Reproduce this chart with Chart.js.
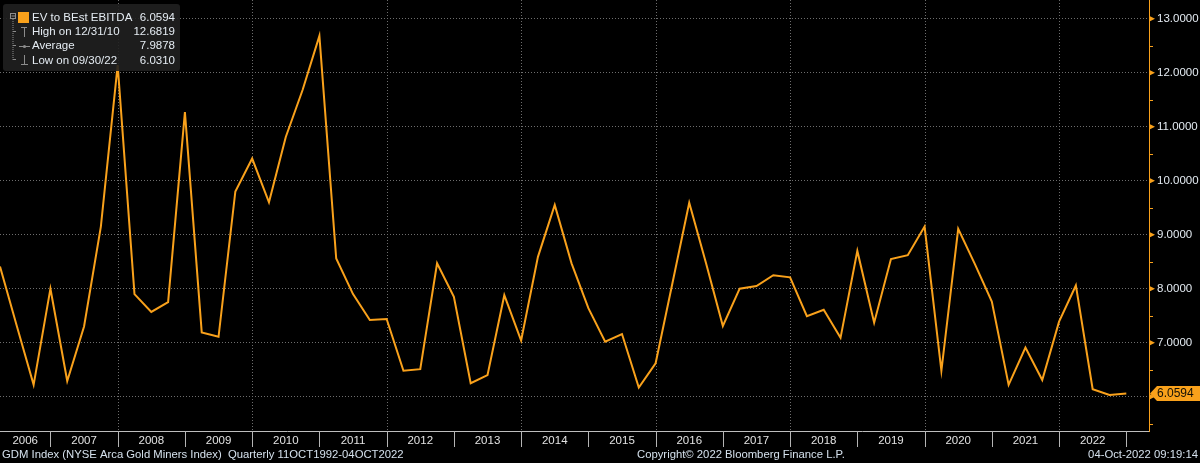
<!DOCTYPE html>
<html>
<head>
<meta charset="utf-8">
<script src="https://cdn.jsdelivr.net/npm/chart.js@4.4.0/dist/chart.umd.min.js"></script>
<style>
html,body{margin:0;padding:0;background:#000;}
#wrap{width:1200px;height:463px;}
</style>
</head>
<body>
<div id="wrap"><canvas id="chart" width="1200" height="463"></canvas></div>
<script>
(function(){
  "use strict";
  const YEARS=["2006","2007","2008","2009","2010","2011","2012","2013","2014","2015","2016","2017","2018","2019","2020","2021","2022"];
  // quarterly EV / BEst EBITDA, one row per year (Q1..Q4), last point = current quarter
  const EV_EBITDA=[
    8.41,7.31,6.22,8.00,
    6.29,7.30,9.15,12.14,
    7.90,7.57,7.75,11.27,
    7.19,7.11,9.80,10.41,
    9.60,10.81,11.68,12.6819,
    8.56,7.90,7.42,7.44,
    6.48,6.51,8.47,7.85,
    6.25,6.40,7.88,7.04,
    8.59,9.55,8.47,7.64,
    7.02,7.16,6.17,6.62,
    8.10,9.59,8.47,7.31,
    8.00,8.05,8.25,8.21,
    7.49,7.61,7.09,8.70,
    7.37,8.55,8.62,9.15,
    6.48,9.11,8.45,7.76,
    6.22,6.91,6.31,7.39,
    8.06,6.14,6.0310,6.0594
  ];
  const Y_TICKS=[6,7,8,9,10,11,12,13];
  const Y_MINOR=[5.5,6.5,7.5,8.5,9.5,10.5,11.5,12.5];
  const LAST_VALUE=6.0594;
  const LEGEND_ROWS=[
    ["EV to BEst EBITDA","6.0594"],
    ["High on 12/31/10","12.6819"],
    ["Average","7.9878"],
    ["Low on 09/30/22","6.0310"]
  ];
  const FOOTER_LEFT="GDM Index (NYSE Arca Gold Miners Index)  Quarterly 11OCT1992-04OCT2022";
  const FOOTER_MID="Copyright\u00A9 2022 Bloomberg Finance L.P.";
  const FOOTER_RIGHT="04-Oct-2022 09:19:14";

  const ORANGE="#f9a11b";
  const TXT="#e4ebf2";
  const FONT="'Liberation Sans', Arial, sans-serif";
  const X_MAX=68.35;

  // year i starts just after quarter index i*4-1 (Dec 31 of previous year)
  function yearStart(i){return i*4-1;}
  function yearMid(i){return (Math.max(yearStart(i),0)+Math.min(yearStart(i+1),X_MAX))/2;}

  const decor={
    id:"bbgDecor",
    beforeDatasetsDraw(chart){
      const {ctx,chartArea:a,scales:{x}}=chart;
      ctx.save();
      ctx.strokeStyle="#6e6e6e";ctx.lineWidth=1;ctx.setLineDash([1,2]);
      YEARS.forEach((y,i)=>{
        if(i===0||(+y)%2!==0) return;
        const px=Math.round(x.getPixelForValue(yearStart(i)))+0.5;
        ctx.beginPath();ctx.moveTo(px,a.top);ctx.lineTo(px,a.bottom);ctx.stroke();
      });
      ctx.restore();
    },
    afterDraw(chart){
      const {ctx,chartArea:a,scales:{x,y}}=chart;
      ctx.save();
      // year separators in the label row
      ctx.strokeStyle="#b4b4b4";ctx.lineWidth=1;
      for(let i=1;i<=YEARS.length;i++){
        const px=Math.round(x.getPixelForValue(yearStart(i)))+0.5;
        ctx.beginPath();ctx.moveTo(px,a.bottom);ctx.lineTo(px,a.bottom+16);ctx.stroke();
      }
      // right axis markers
      ctx.fillStyle=ORANGE;ctx.strokeStyle=ORANGE;
      Y_TICKS.forEach(v=>{
        const py=y.getPixelForValue(v);
        ctx.beginPath();ctx.moveTo(a.right,py-3);ctx.lineTo(a.right+6,py);ctx.lineTo(a.right,py+3);ctx.closePath();ctx.fill();
      });
      Y_MINOR.forEach(v=>{
        const py=Math.round(y.getPixelForValue(v))+0.5;
        ctx.beginPath();ctx.moveTo(a.right,py);ctx.lineTo(a.right+4,py);ctx.stroke();
      });
      // last value tag
      const ly=y.getPixelForValue(LAST_VALUE);
      ctx.beginPath();
      ctx.moveTo(a.right+1,ly);ctx.lineTo(a.right+8,ly-7.5);ctx.lineTo(1200,ly-7.5);
      ctx.lineTo(1200,ly+7.5);ctx.lineTo(a.right+8,ly+7.5);ctx.closePath();ctx.fill();
      ctx.fillStyle="#141006";ctx.font="12px "+FONT;ctx.textBaseline="middle";ctx.textAlign="left";
      ctx.fillText(LAST_VALUE.toFixed(4),a.right+8,ly+0.5);

      // legend box
      ctx.fillStyle="rgba(32,32,32,0.9)";
      ctx.beginPath();ctx.roundRect(3,4,177,67,3);ctx.fill();
      ctx.strokeStyle="#8c8c8c";ctx.lineWidth=1;
      ctx.strokeRect(10.5,13.5,5,5);
      ctx.beginPath();ctx.moveTo(11.5,16);ctx.lineTo(15,16);ctx.stroke();
      ctx.setLineDash([1,1]);
      ctx.beginPath();ctx.moveTo(13,19);ctx.lineTo(13,60);ctx.stroke();
      ctx.setLineDash([]);
      [31.5,45.5,59.5].forEach(ry=>{ctx.beginPath();ctx.moveTo(13,ry);ctx.lineTo(16,ry);ctx.stroke();});
      // high icon
      ctx.beginPath();ctx.moveTo(21,27.5);ctx.lineTo(27,27.5);ctx.moveTo(24.5,27.5);ctx.lineTo(24.5,37);ctx.stroke();
      // average icon
      ctx.beginPath();ctx.moveTo(19,46.5);ctx.lineTo(30,46.5);ctx.stroke();
      ctx.beginPath();ctx.arc(24.5,46.5,1.6,0,Math.PI*2);ctx.fillStyle="#8c8c8c";ctx.fill();
      // low icon
      ctx.beginPath();ctx.moveTo(24.5,55);ctx.lineTo(24.5,64.5);ctx.moveTo(21,64.5);ctx.lineTo(28,64.5);ctx.stroke();
      ctx.fillStyle=ORANGE;ctx.fillRect(18,12,11,11);
      ctx.font="11.5px "+FONT;ctx.fillStyle=TXT;ctx.textBaseline="middle";
      const rows=[17.5,32,46.2,60.5];
      LEGEND_ROWS.forEach((r,i)=>{
        ctx.textAlign="left";ctx.fillText(r[0],32,rows[i]);
        ctx.textAlign="right";ctx.fillText(r[1],175,rows[i]);
      });

      // footer
      ctx.font="11.3px "+FONT;ctx.fillStyle="#d4e0ec";
      ctx.textAlign="left";ctx.fillText(FOOTER_LEFT,2,455);
      ctx.fillText(FOOTER_MID,637,455);
      ctx.textAlign="right";ctx.fillText(FOOTER_RIGHT,1198,455);
      ctx.restore();
    }
  };

  new Chart(document.getElementById("chart"),{
    type:"line",
    data:{datasets:[{
      label:LEGEND_ROWS[0][0],
      data:EV_EBITDA.map((v,i)=>({x:i,y:v})),
      borderColor:ORANGE,borderWidth:2,pointRadius:0,tension:0,fill:false
    }]},
    options:{
      responsive:false,animation:false,devicePixelRatio:1,
      layout:{padding:0},
      plugins:{legend:{display:false},tooltip:{enabled:false}},
      scales:{
        x:{
          type:"linear",position:"bottom",min:0,max:X_MAX,
          afterBuildTicks:s=>{s.ticks=YEARS.map((yr,i)=>({value:yearMid(i)}));},
          afterFit:s=>{s.height=32;s.paddingLeft=0;s.paddingRight=0;},
          grid:{display:false,drawTicks:false},
          border:{display:true,color:"#bdbdbd",width:1},
          ticks:{autoSkip:false,maxRotation:0,padding:3,color:"#e2e2e2",font:{family:FONT,size:11.5},
            callback:(v,i)=>YEARS[i]}
        },
        y:{
          type:"linear",position:"right",min:5.365,max:13.346,
          afterBuildTicks:s=>{s.ticks=Y_TICKS.map(v=>({value:v}));},
          afterFit:s=>{s.width=51;s.paddingTop=0;s.paddingBottom=0;},
          grid:{color:"#6e6e6e",lineWidth:1,drawTicks:false},
          border:{display:true,color:ORANGE,width:1,dash:[1,2]},
          ticks:{padding:8,color:TXT,font:{family:FONT,size:11.5},callback:v=>v.toFixed(4)}
        }
      }
    },
    plugins:[decor]
  });
})();
</script>
</body>
</html>
